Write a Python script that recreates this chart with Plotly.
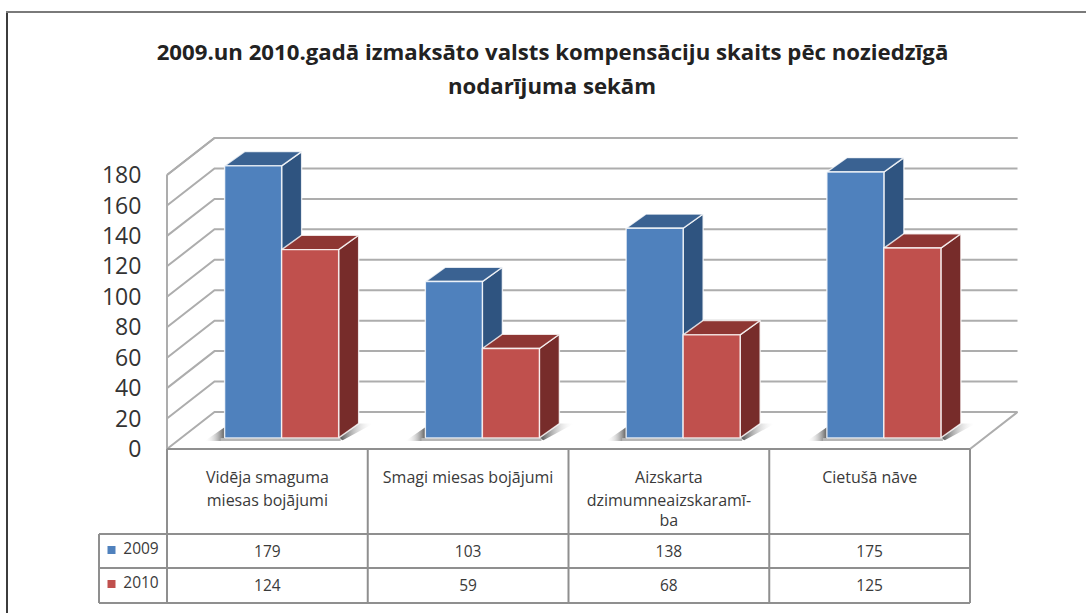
import plotly.graph_objects as go

CATEGORY_LINES = [
    ["Vidēja smaguma", "miesas bojājumi"],
    ["Smagi miesas bojājumi"],
    ["Aizskarta", "dzimumneaizskaramī-", "ba"],
    ["Cietušā nāve"],
]
SERIES_2009 = [179, 103, 138, 175]
SERIES_2010 = [124, 59, 68, 125]
SERIES_NAMES = ["2009", "2010"]
TICKS = [0, 20, 40, 60, 80, 100, 120, 140, 160, 180]
TITLE_1 = "2009.un 2010.gadā izmaksāto valsts kompensāciju skaits pēc noziedzīgā"
TITLE_2 = "nodarījuma sekām"

W, H = 1086, 613
L, R, T, B = 167, 970, 175, 449
UX = (R - L) / 4
UY = (B - T) / 180
DX, DY = 47.5 / UX, 37 / UY          # wall depth
BDX, BDY = 20 / UX, 14.3 / UY        # bar depth
BASE = 7.3
BAR0, BARW = 0.287, 0.284
GRID = "#adadad"
TABLE = "#8f8f8f"
TXT = "#3a3a3a"
FONT = "Open Sans"
LINE_Y = [479, 502, 522]

def px_y(p):
    return (B - p) / UY
def px_x(p):
    return (p - L) / UX

fig = go.Figure()

def line(xs, ys, color=GRID, width=2):
    fig.add_trace(go.Scatter(x=xs, y=ys, mode="lines", showlegend=False,
                             hoverinfo="skip", line=dict(color=color, width=width)))

def poly(xs, ys, fill, edge="rgba(255,255,255,0.8)", width=1.4, **kw):
    fig.add_trace(go.Scatter(x=xs + xs[:1], y=ys + ys[:1], mode="lines", fill="toself", fillcolor=fill,
                             showlegend=False, hoverinfo="skip",
                             line=dict(color=edge, width=width), **kw))

# Walls and floor
for v in TICKS[1:]:
    line([0, DX, 4 + DX], [v, v + DY, v + DY])
line([0, DX, 4 + DX], [180, 180 + DY, 180 + DY])
line([0, 0], [0, 180])
line([0, DX, 4 + DX, 4, 0], [0, DY, DY, 0, 0])

# Floor shadows
CLEAR = "rgba(0,0,0,0)"
for i in range(4):
    x0 = i + BAR0
    x2 = x0 + 2 * BARW
    poly([x2, x2 + BDX, x2 + BDX + 0.075, x2 + 0.02], [BASE, BASE + BDY, BASE + BDY, BASE - 1.5],
         CLEAR, edge=CLEAR, width=0,
         fillgradient=dict(type="horizontal", colorscale=[[0, "rgba(70,70,70,1)"], [1, "rgba(255,255,255,0)"]]))
    poly([x0 - 0.1, x0, x0], [BASE - 2, BASE + 7, BASE - 2],
         CLEAR, edge=CLEAR, width=0,
         fillgradient=dict(type="horizontal", colorscale=[[0, "rgba(255,255,255,0)"], [1, "rgba(85,85,85,0.95)"]]))
    poly([x0 - 0.02, x2 + 0.01, x2 + 0.01, x0 - 0.02], [BASE, BASE, BASE - 2, BASE - 2], "#b5b5b5", edge=CLEAR, width=0)

# Bars
def bar(x0, v, front, side, top):
    x1 = x0 + BARW
    h = v + BASE - 0.3
    poly([x1, x1 + BDX, x1 + BDX, x1], [BASE, BASE + BDY, h + BDY, h], side)
    poly([x0, x1, x1 + BDX, x0 + BDX], [h, h, h + BDY, h + BDY], top)
    poly([x0, x1, x1, x0], [BASE, BASE, h, h], front)

for i in range(4):
    bar(i + BAR0, SERIES_2009[i], "#4F81BD", "#2F5480", "#3A6292")
    bar(i + BAR0 + BARW, SERIES_2010[i], "#C0504D", "#772C2A", "#8E3633")

# Data table
ROWS = [449, 534, 568, 603]
for p in ROWS:
    line([0, 4], [px_y(p), px_y(p)], TABLE, 2)
for i in range(5):
    line([i, i], [px_y(ROWS[0]), px_y(ROWS[3])], TABLE, 2)
for p in ROWS[1:]:
    line([px_x(99), 0], [px_y(p), px_y(p)], TABLE, 2)
line([px_x(99), px_x(99)], [px_y(ROWS[1]), px_y(ROWS[3])], TABLE, 2)

def text(xs, ys, labels, size=16):
    fig.add_trace(go.Scatter(x=xs, y=ys, mode="text", text=labels, showlegend=False,
                             hoverinfo="skip", textposition="middle center",
                             textfont=dict(family=FONT, size=size, color=TXT)))

for i, lines in enumerate(CATEGORY_LINES):
    text([i + 0.5] * len(lines), [px_y(LINE_Y[j]) for j in range(len(lines))], lines)
text([i + 0.5 for i in range(4)], [px_y(553)] * 4, [str(v) for v in SERIES_2009], 15.5)
text([i + 0.5 for i in range(4)], [px_y(587)] * 4, [str(v) for v in SERIES_2010], 15.5)

for name, color, p in zip(SERIES_NAMES, ["#4F81BD", "#C0504D"], [550, 584]):
    fig.add_trace(go.Scatter(x=[px_x(111.5)], y=[px_y(p)], mode="markers", showlegend=False,
                             hoverinfo="skip", marker=dict(symbol="square", size=8, color=color)))
    text([px_x(141)], [px_y(p)], [name], 15.5)

fig.update_layout(
    width=W, height=H,
    margin=dict(l=0, r=0, t=0, b=0, pad=0),
    paper_bgcolor="white", plot_bgcolor="rgba(0,0,0,0)",
    showlegend=False,
    title=dict(text="<b>" + TITLE_1 + "</b>", font=dict(family=FONT, size=22.2, color="#222222"),
               xref="paper", x=552.5 / W, xanchor="center", yref="container", y=1 - 52 / H, yanchor="middle"),
    annotations=[dict(text="<b>" + TITLE_2 + "</b>", xref="paper", yref="paper", x=552 / W, y=1 - 85 / H,
                      xanchor="center", yanchor="middle", showarrow=False,
                      font=dict(family=FONT, size=22.2, color="#222222"))],
    xaxis=dict(range=[px_x(0), px_x(W)], visible=False, fixedrange=True),
    yaxis=dict(range=[px_y(H), px_y(0)], tickvals=TICKS, showgrid=False, zeroline=False, showline=False,
               anchor="free", position=L / W, side="left",
               ticks="outside", ticklen=21, tickcolor="rgba(0,0,0,0)", fixedrange=True,
               tickfont=dict(family=FONT, size=23, color="#333333")),
    shapes=[
        dict(type="line", xref="paper", yref="paper", x0=7 / W, y0=1 - 12 / H, x1=7 / W, y1=0,
             line=dict(color="#3c3c3c", width=2)),
        dict(type="line", xref="paper", yref="paper", x0=6 / W, y0=1 - 12 / H, x1=1, y1=1 - 12 / H,
             line=dict(color="#7a7a7a", width=2)),
    ],
)

fig.write_html("out.html", config=dict(displayModeBar=False),
               post_script="document.body.style.margin='0';document.body.style.overflow='hidden';")
